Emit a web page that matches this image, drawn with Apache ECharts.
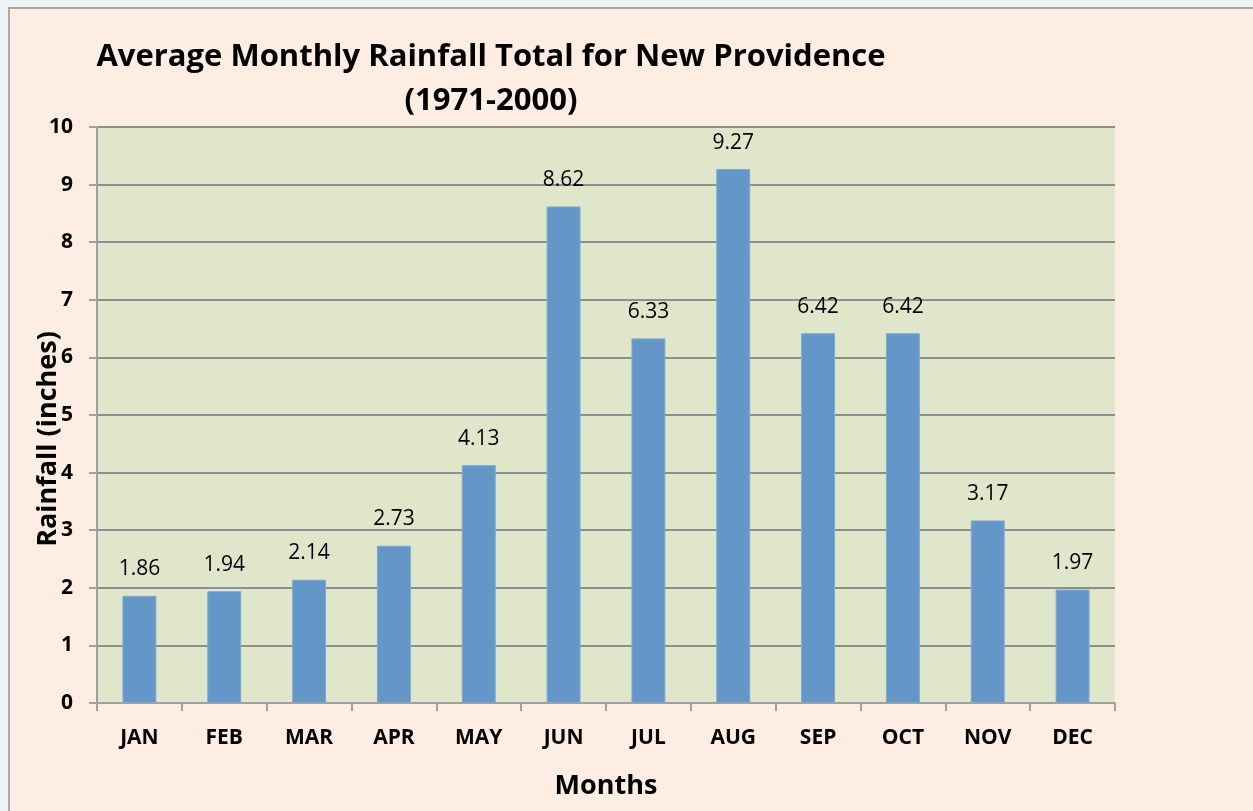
<!DOCTYPE html>
<html>
<head>
<meta charset="utf-8">
<script src="https://cdn.jsdelivr.net/npm/echarts@6/dist/echarts.min.js"></script>
<style>
  html, body { margin: 0; padding: 0; background: #eef4f6; }
  #chart { width: 1253px; height: 811px; }
</style>
</head>
<body>
<div id="chart"></div>
<script>
// monthly averages, inches
const months = ['JAN', 'FEB', 'MAR', 'APR', 'MAY', 'JUN', 'JUL', 'AUG', 'SEP', 'OCT', 'NOV', 'DEC']
const rainfall = [1.86, 1.94, 2.14, 2.73, 4.13, 8.62, 6.33, 9.27, 6.42, 6.42, 3.17, 1.97]
const titleLines = ['Average Monthly Rainfall Total for New Providence', '(1971-2000)']

let chart = echarts.init(document.getElementById('chart'))
let font = '"Open Sans", sans-serif'
let axisGray = '#a0a0a0'

chart.setOption({
  backgroundColor: '#eef4f6',
  graphic: [
    {
      type: 'rect', z: -10, silent: true,
      shape: {x: 9, y: 8, width: 1260, height: 820},
      style: {fill: '#fdede2', stroke: '#a8a8a8', lineWidth: 2}
    },
    {
      type: 'text', z: 10,
      style: {text: titleLines[0], x: 491, y: 57, textAlign: 'center', textVerticalAlign: 'middle',
        font: 'bold 31px "Open Sans", sans-serif', fill: '#000'}
    },
    {
      type: 'text', z: 10,
      style: {text: titleLines[1], x: 491, y: 101, textAlign: 'center', textVerticalAlign: 'middle',
        font: 'bold 31px "Open Sans", sans-serif', fill: '#000'}
    }
  ],
  grid: {
    left: 97, right: 138, top: 127, bottom: 108,
    show: true, backgroundColor: '#dfe6c9', borderWidth: 0
  },
  xAxis: {
    type: 'category',
    data: months,
    name: 'Months',
    nameLocation: 'middle',
    nameGap: 70,
    nameMoveOverlap: false,
    nameTextStyle: {fontFamily: font, fontWeight: 'bold', fontSize: 27, color: '#000'},
    axisLine: {lineStyle: {color: axisGray, width: 2}},
    axisTick: {show: true, length: 8, lineStyle: {color: axisGray, width: 2}},
    axisLabel: {fontFamily: font, fontWeight: 'bold', fontSize: 21, color: '#000', margin: 25}
  },
  yAxis: {
    type: 'value',
    min: 0, max: 10, interval: 1,
    name: 'Rainfall (inches)',
    nameLocation: 'middle',
    nameGap: 35,
    nameMoveOverlap: false,
    nameTextStyle: {fontFamily: font, fontWeight: 'bold', fontSize: 27, color: '#000', padding: [0, 48, 0, 0]},
    axisLine: {show: true, lineStyle: {color: axisGray, width: 2}},
    axisTick: {show: true, length: 8, lineStyle: {color: axisGray, width: 2}},
    axisLabel: {fontFamily: font, fontWeight: 'bold', fontSize: 21, color: '#000', margin: 24},
    splitLine: {lineStyle: {color: '#8e8e8e', width: 2}}
  },
  series: [{
    type: 'bar',
    data: rainfall,
    barWidth: '40%',
    itemStyle: {color: '#6496c8', borderColor: '#7ea9d3', borderWidth: 1},
    label: {
      show: true, position: 'top', distance: 16,
      fontFamily: font, fontSize: 21, color: '#000',
      formatter: p => p.value.toFixed(2)
    }
  }]
})
</script>
</body>
</html>
